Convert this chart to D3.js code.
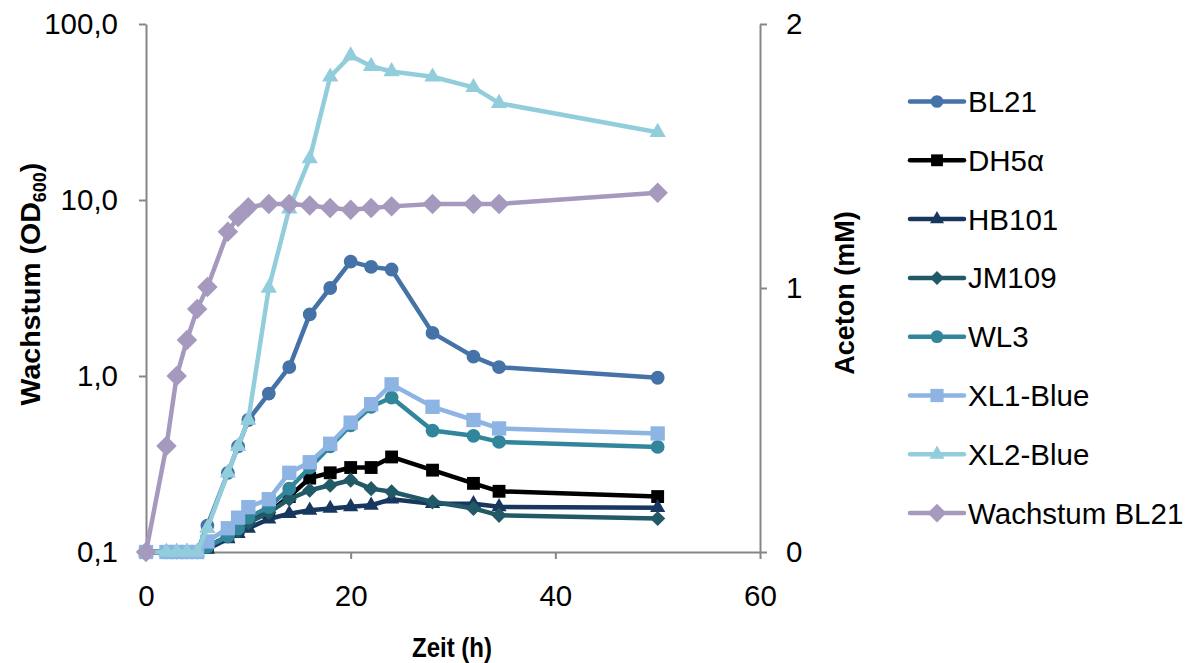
<!DOCTYPE html>
<html><head><meta charset="utf-8">
<script src="https://cdn.jsdelivr.net/npm/d3@7"></script>
<style>
body{margin:0;background:#fff;}
svg text{font-family:"Liberation Sans",Arial,sans-serif;}
</style></head>
<body><svg id="c" width="1188" height="663"></svg>
<script>
const time = [0,2,3,4,5,6,8,9,10,12,14,16,18,20,22,24,28,32,34.5,50];
const bl21  = [0,0,0,0,0,0.10,0.30,0.40,0.50,0.60,0.70,0.90,1.00,1.10,1.08,1.07,0.83,0.74,0.70,0.66];
const dh5a  = [0,0,0,0,0,0.02,0.06,0.09,0.12,0.15,0.21,0.28,0.30,0.32,0.32,0.36,0.31,0.26,0.23,0.21];
const hb101 = [0,0,0,0,0,0.01,0.05,0.07,0.09,0.125,0.145,0.158,0.165,0.171,0.177,0.20,0.183,0.183,0.171,0.168];
const jm109 = [0,0,0,0,0,0.02,0.06,0.08,0.11,0.15,0.20,0.234,0.253,0.272,0.24,0.228,0.19,0.165,0.139,0.127];
const wl3   = [0,0,0,0,0,0.02,0.06,0.09,0.13,0.17,0.24,0.32,0.40,0.48,0.55,0.585,0.46,0.44,0.417,0.398];
const xl1   = [0,0,0,0,0,0.04,0.09,0.13,0.17,0.20,0.30,0.34,0.41,0.49,0.56,0.635,0.55,0.50,0.468,0.449];
const xl2   = [0,0,0,0,0,0.09,0.30,0.40,0.50,1.00,1.30,1.49,1.80,1.88,1.84,1.82,1.80,1.76,1.70,1.59];
const growthBL21 = [0.1,0.40,1.0,1.6,2.4,3.2,6.6,8.0,9.1,9.5,9.5,9.3,9.0,8.8,9.0,9.2,9.5,9.5,9.5,11.0];

const names = ["BL21","DH5α","HB101","JM109","WL3","XL1-Blue","XL2-Blue","Wachstum BL21"];
const leftTicks = [0.1,1,10,100];
const rightTicks = [0,1,2];
const xTicks = [0,20,40,60];

const svg = d3.select("#c");
const x = d3.scaleLinear([0,60],[146,760]);
const yL = d3.scaleLog([0.1,100],[552,24]);
const yR = d3.scaleLinear([0,2],[552,24]);
const axisCol = "#868686";
const fs = 29.5;

function styleAxis(g){
  g.select(".domain").attr("stroke",axisCol).attr("stroke-width",2);
  g.selectAll(".tick line").attr("stroke",axisCol).attr("stroke-width",2);
  g.selectAll(".tick text").attr("fill","#000").attr("font-size",fs).attr("font-family","Liberation Sans, Arial, sans-serif");
}
svg.append("g").attr("transform","translate(146,0)")
  .call(d3.axisLeft(yL).tickValues(leftTicks).tickSize(7).tickSizeOuter(0).tickPadding(21)
    .tickFormat(d=>d3.format(".1f")(d).replace(".",",")))
  .call(styleAxis);
svg.append("g").attr("transform","translate(760,0)")
  .call(d3.axisRight(yR).tickValues(rightTicks).tickSize(7).tickSizeOuter(0).tickPadding(19)
    .tickFormat(d3.format("d")))
  .call(styleAxis);
svg.append("g").attr("transform","translate(0,552)")
  .call(d3.axisBottom(x).tickValues(xTicks).tickSize(7).tickSizeOuter(0).tickPadding(26))
  .call(styleAxis);

// axis titles
const yt = svg.append("text").attr("transform","translate(40,284) rotate(-90)")
  .attr("text-anchor","middle").attr("font-size",28.5).attr("font-weight","bold");
yt.append("tspan").text("Wachstum (OD");
yt.append("tspan").attr("font-size",18).attr("dy",6).text("600");
yt.append("tspan").attr("dy",-6).text(")");
svg.append("text").attr("transform","translate(854,293) rotate(-90)")
  .attr("text-anchor","middle").attr("font-size",27).attr("font-weight","bold").text("Aceton (mM)");
svg.append("text").attr("x",452).attr("y",657).attr("text-anchor","middle")
  .attr("font-size",28).attr("font-weight","bold")
  .attr("textLength",80).attr("lengthAdjust","spacingAndGlyphs").text("Zeit (h)");

// symbols
const diamond = {draw(ctx,size){const r=Math.sqrt(size/2);ctx.moveTo(0,-r);ctx.lineTo(r,0);ctx.lineTo(0,r);ctx.lineTo(-r,0);ctx.closePath();}};
const series = [
  {name:names[0], vals:bl21, col:"#4572A7", sym:d3.symbolCircle, size:150, y:yR},
  {name:names[1], vals:dh5a, col:"#000000", sym:d3.symbolSquare, size:165, y:yR},
  {name:names[2], vals:hb101, col:"#17375E", sym:d3.symbolTriangle, size:100, y:yR},
  {name:names[3], vals:jm109, col:"#215967", sym:diamond, size:115, y:yR},
  {name:names[4], vals:wl3, col:"#31869B", sym:d3.symbolCircle, size:150, y:yR},
  {name:names[5], vals:xl1, col:"#8DB4E2", sym:d3.symbolSquare, size:205, y:yR},
  {name:names[6], vals:xl2, col:"#92CDDC", sym:d3.symbolTriangle, size:115, y:yR},
  {name:names[7], vals:growthBL21, col:"#A599BD", sym:diamond, size:210, y:yL}
];

series.forEach(s=>{
  const pts = time.map((t,i)=>[t,s.vals[i]]);
  const line = d3.line().x(d=>x(d[0])).y(d=>s.y(d[1]));
  const g = svg.append("g");
  g.append("path").attr("d",line(pts)).attr("fill","none").attr("stroke",s.col)
    .attr("stroke-width",4.5).attr("stroke-linejoin","round");
  g.selectAll("path.m").data(pts).join("path").attr("class","m")
    .attr("transform",d=>`translate(${x(d[0])},${s.y(d[1])})`)
    .attr("d",d3.symbol(s.sym,s.size)).attr("fill",s.col);
});

// legend
const lg = svg.append("g");
series.forEach((s,i)=>{
  const yy = 101.5 + i*58.8;
  lg.append("line").attr("x1",910).attr("x2",964).attr("y1",yy).attr("y2",yy)
    .attr("stroke",s.col).attr("stroke-width",4.5).attr("stroke-linecap","round");
  lg.append("path").attr("transform",`translate(937,${yy})`).attr("d",d3.symbol(s.sym,s.size*0.85)).attr("fill",s.col);
  lg.append("text").attr("x",968).attr("y",yy+10.5).attr("font-size",fs).text(s.name);
});
</script></body></html>
